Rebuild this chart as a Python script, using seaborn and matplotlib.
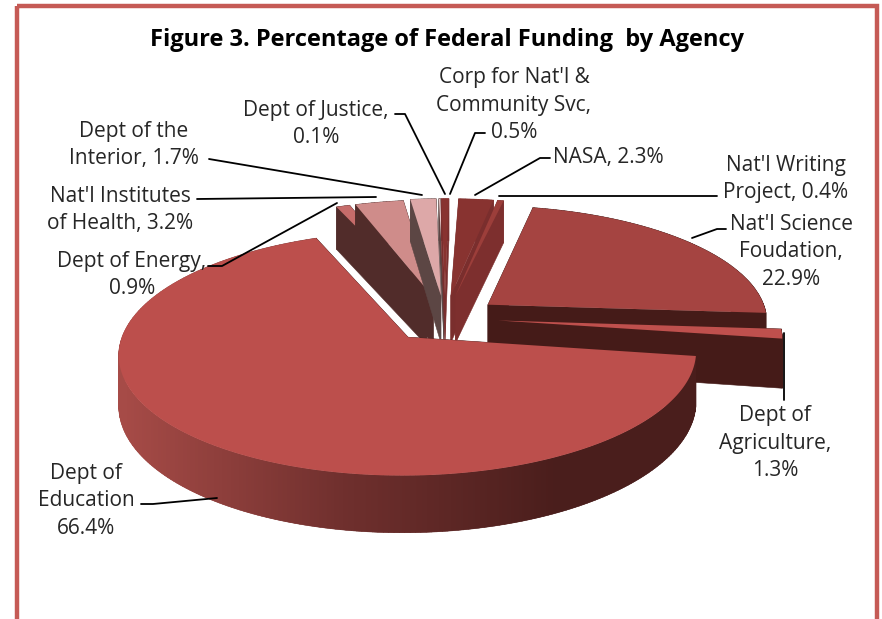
import numpy as np
import matplotlib
matplotlib.use('Agg')
import matplotlib.pyplot as plt
import seaborn as sns
from matplotlib.collections import PolyCollection
from matplotlib.patches import Polygon, Rectangle
from matplotlib.transforms import Affine2D

# values clockwise from 12 o'clock
agencies = ['NASA', "Nat'l Writing Project", "Nat'l Science Foudation", 'Dept of Agriculture',
            'Dept of Education', 'Dept of Energy', "Nat'l Institutes of Health",
            'Dept of the Interior', 'Dept of Justice', "Corp for Nat'l & Community Svc"]
percents = [2.3, 0.4, 22.9, 1.3, 66.4, 0.9, 3.2, 1.7, 0.1, 0.5]

label_texts = ["NASA, 2.3%", "Nat'l Writing\nProject, 0.4%", "Nat'l Science\nFoudation,\n22.9%",
               "Dept of\nAgriculture,\n1.3%", "Dept of\nEducation\n66.4%", "Dept of Energy,\n0.9%",
               "Nat'l Institutes\nof Health, 3.2%", "Dept of the\nInterior, 1.7%",
               "Dept of Justice,\n0.1%", "Corp for Nat'l &\nCommunity Svc,\n0.5%"]

explode = [0.2, 0.2, 0.195, 0.19, 0.208, 0.19, 0.19, 0.2, 0.2, 0.2]
top_colors = ['#883330', '#9c3e3a', '#a54441', '#bf504d', '#bc4f4c',
              '#c66c6a', '#cf8c8a', '#dda8a8', '#e6c5c5', '#883330']
wall_colors = ['#7a2e2d', '#7d2f2e', '#451b18', '#451b18', '#451b18',
               '#512c2a', '#512c2a', '#5c4644', '#5c4644', '#7a2e2d']

label_pos = [(608, 157), (786, 179), (791, 252), (775, 443), (86, 501),
             (132, 275), (120, 210), (134, 145), (316, 124), (514, 105)]
leaders = [[(475, 195), (540, 158), (550, 158)],
           [(499, 196), (717, 196)],
           [(692, 238), (717, 229), (726, 229)],
           [(784, 333), (784, 400)],
           [(217, 498), (153, 504), (141, 504)],
           [(337, 203), (222, 266), (208, 266)],
           [(376, 197), (197, 199)],
           [(422, 195), (209, 159)],
           [(445, 194), (405, 114), (395, 114)],
           [(450, 194), (475, 133), (485, 133)]]

# back to front, so nearer slices paint over the others
draw_order = [5, 6, 7, 8, 9, 0, 1, 2, 3, 4]

# fake 3d projection, in pixels
CX, CY = 445, 318
A, B, K, DEPTH = 280, 115, 0.13, 48.5


def project(pts):
    w = 1 + K * pts[:, 1]
    return np.column_stack([CX + A * pts[:, 0] / w, CY - B * pts[:, 1] / w]), DEPTH / w


sns.set_theme(style='white')
plt.rcParams['font.family'] = ['Open Sans', 'DejaVu Sans']

fig = plt.figure(figsize=(8.82, 6.19), dpi=100)
ax = fig.add_axes([0, 0, 1, 1])
wedges, _ = ax.pie(np.array(percents) / 100, explode=explode, colors=top_colors, startangle=88,
                   counterclock=False, normalize=False)

rim_cmap = sns.blend_palette(['#a64b47', '#70302e', '#4a1e1c'], as_cmap=True)
flat = Affine2D().scale(4000)

for n, i in enumerate(draw_order):
    wedge = wedges[i]
    poly = wedge.get_path().to_polygons(transform=flat)[0] / 4000
    top, drop = project(poly)
    radius = np.hypot(*(poly - np.array(wedge.center)).T)
    shaded = percents[i] > 50
    quads, quad_colors, depths = [], [], []
    for j in range(len(poly) - 1):
        quads.append([top[j], top[j + 1], top[j + 1] + [0, drop[j + 1]], top[j] + [0, drop[j]]])
        if shaded and radius[j] > 0.99 and radius[j + 1] > 0.99:
            quad_colors.append(rim_cmap(np.clip((top[j, 0] - 125) / 435, 0, 1)))
        else:
            quad_colors.append(wall_colors[i])
        depths.append((top[j, 1] + top[j + 1, 1]) / 2)
    keep = np.argsort(depths)
    walls = PolyCollection([quads[q] for q in keep], facecolors=[quad_colors[q] for q in keep],
                           edgecolors=[quad_colors[q] for q in keep], linewidths=0.4, zorder=2 + 2 * n)
    ax.add_collection(walls)

    # big slice gets the shaded rim, front part only
    if shaded:
        on_arc = np.where(radius > 0.99)[0]
        run = on_arc[:np.argmax(np.diff(on_arc) > 1) + 1] if np.any(np.diff(on_arc) > 1) else on_arc
        run = run[np.argmin(top[run, 0]):]
        rim = np.vstack([top[run], (top[run] + np.column_stack([np.zeros(len(run)), drop[run]]))[::-1]])
        ramp = np.clip((np.linspace(100, 720, 620) - 125) / 435, 0, 1)[None, :]
        im = ax.imshow(ramp, cmap=rim_cmap, vmin=0, vmax=1, extent=(100, 720, 600, 300), aspect='auto',
                       zorder=2 + 2 * n)
        im.set_clip_path(Polygon(rim, closed=True, transform=ax.transData))

    ax.add_patch(Polygon(top, closed=True, facecolor=top_colors[i], edgecolor='none', zorder=3 + 2 * n))
    wedge.remove()

for pts in leaders:
    ax.plot(*zip(*pts), color='black', lw=1.3, zorder=40, solid_capstyle='round')

for text, (x, y) in zip(label_texts, label_pos):
    ax.text(x, y, text, ha='center', va='center', fontsize=15, color='#262626', linespacing=1.42, zorder=41)

ax.text(447, 40, 'Figure 3. Percentage of Federal Funding  by Agency', ha='center', va='center',
        fontsize=17, fontweight='bold', color='black', zorder=41)

ax.add_patch(Rectangle((17, 6), 860, 700, fill=False, edgecolor='#c55a55', lw=3.2, zorder=1))

ax.set_xlim(0, 882)
ax.set_ylim(619, 0)
ax.set_aspect('auto')
ax.axis('off')

fig.savefig('out.png', dpi=100)
